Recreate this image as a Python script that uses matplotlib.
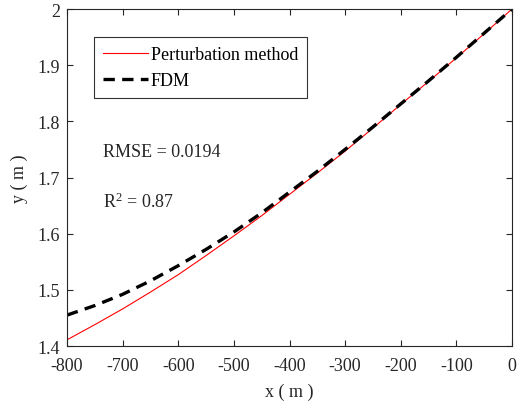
import matplotlib
matplotlib.use("Agg")
import matplotlib.pyplot as plt

plt.rcParams['font.family'] = ['Liberation Serif', 'DejaVu Serif']
plt.rcParams['mathtext.fontset'] = 'custom'
plt.rcParams['mathtext.rm'] = 'Liberation Serif'
plt.rcParams['mathtext.it'] = 'Liberation Serif:italic'

x = [-800, -750, -700, -650, -600, -550, -500, -450, -400, -350, -300,
     -250, -200, -150, -100, -50, 0]
pert = [1.411, 1.438, 1.466, 1.496, 1.527, 1.561, 1.596, 1.632, 1.670,
        1.708, 1.747, 1.788, 1.830, 1.871, 1.913, 1.956, 2.0]
fdm = [1.455, 1.472, 1.492, 1.516, 1.543, 1.572, 1.603, 1.637, 1.674,
       1.711, 1.750, 1.790, 1.831, 1.872, 1.914, 1.957, 2.0]
xticks = [-800, -700, -600, -500, -400, -300, -200, -100, 0]
yticks = [1.4, 1.5, 1.6, 1.7, 1.8, 1.9, 2.0]
ytick_labels = ['1.4', '1.5', '1.6', '1.7', '1.8', '1.9', '2']

fig = plt.figure(figsize=(5.22, 4.06), dpi=100)
ax = fig.add_axes([67/522, 59/406, 445/522, 337/406])

ax.plot(x, pert, color='#ff0000', lw=0.8, label='Perturbation method')
ax.plot(x, fdm, color='black', lw=2.4, ls=(0, (3.4, 2.2)), label='FDM')

ax.set_xlim(-800, 0)
ax.set_ylim(1.4, 2.0)
ax.set_xticks(xticks)
ax.set_xticklabels([str(t) for t in xticks])
ax.set_yticks(yticks)
ax.set_yticklabels(ytick_labels)
ax.tick_params(direction='in', top=True, right=True, length=4.5, width=0.8,
               labelsize=13, colors='#262626')
ax.tick_params(axis='x', pad=8)
ax.tick_params(axis='y', pad=5)
for s in ax.spines.values():
    s.set_linewidth(0.8)
    s.set_color('#262626')

ax.set_xlabel('x ( m )', fontsize=13, color='#262626', labelpad=6)
ax.set_ylabel('y ( m )', fontsize=13, color='#262626', labelpad=7)

leg = ax.legend(loc='upper left', bbox_to_anchor=(0.0607, 0.917),
                borderaxespad=0, fancybox=False, framealpha=1,
                edgecolor='#333333', fontsize=13, handlelength=2.5,
                handletextpad=0.15, borderpad=0.5, labelspacing=0.5)
leg.get_frame().set_linewidth(0.8)

ax.text(0.0798, 0.576, 'RMSE = 0.0194', transform=ax.transAxes,
        fontsize=13, va='center', ha='left', color='#262626')
ax.text(0.0798, 0.428, r'R$^{2}$ = 0.87', transform=ax.transAxes,
        fontsize=13, va='center', ha='left', color='#262626')

fig.savefig('out.png', dpi=100)
